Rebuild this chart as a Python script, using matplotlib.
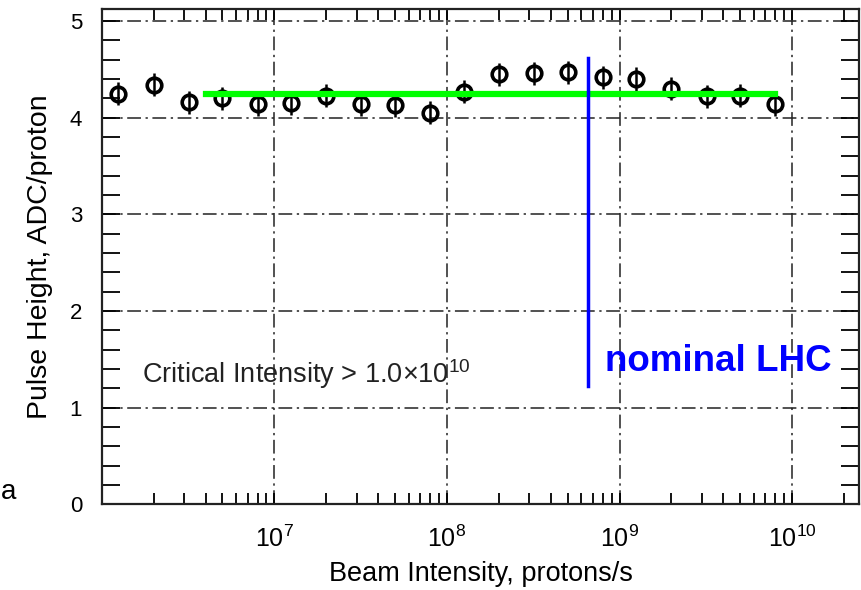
# Imports
import matplotlib
matplotlib.use("Agg")
import matplotlib.pyplot as plt
from matplotlib.ticker import LogLocator, MultipleLocator, NullFormatter

# beam intensity for each measurement (protons/s)
beam_intensity: list[float] = [
    1.25e6, 2.0e6, 3.2e6, 5.0e6, 8.0e6,
    1.25e7, 2.0e7, 3.2e7, 5.0e7, 8.0e7,
    1.25e8, 2.0e8, 3.2e8, 5.0e8, 8.0e8,
    1.25e9, 2.0e9, 3.2e9, 5.0e9, 8.0e9,
]
# pulse height (ADC/proton) and its error
pulse_height: list[float] = [
    4.25, 4.34, 4.16, 4.20, 4.14,
    4.15, 4.23, 4.14, 4.13, 4.05,
    4.27, 4.45, 4.46, 4.47, 4.42,
    4.40, 4.30, 4.22, 4.23, 4.14,
]
pulse_error: list[float] = [0.12] * 20

# constant fit and the nominal LHC intensity
fit_range: list[float] = [4.0e6, 8.0e9]
fit_value: float = 4.25
nominal_lhc: float = 6.6e8
nominal_span: list[float] = [1.22, 4.62]

x_ticks: list[float] = [1e7, 1e8, 1e9, 1e10]
x_tick_labels: list[str] = ["10$^{7}$", "10$^{8}$", "10$^{9}$", "10$^{10}$"]
y_ticks: list[int] = [0, 1, 2, 3, 4, 5]


def build_plot() -> plt.Figure:
    """Draw pulse height versus beam intensity."""
    plt.rcParams["font.family"] = ["Liberation Sans", "DejaVu Sans"]
    plt.rcParams["mathtext.fontset"] = "custom"
    plt.rcParams["mathtext.rm"] = "Liberation Sans"
    plt.rcParams["mathtext.default"] = "regular"

    fig = plt.figure(figsize=(8.61, 5.90), dpi=100)
    ax = fig.add_axes([0.1181, 0.1453, 0.8799, 0.8386])

    ax.set_xscale("log")
    ax.set_xlim(1e6, 2.45e10)
    ax.set_ylim(0, 5.12)

    # data points
    ax.errorbar(
        beam_intensity, pulse_height, yerr=pulse_error,
        fmt="o", ms=10.5, mfc="none", mec="black", mew=2.6,
        ecolor="black", elinewidth=1.8, capsize=0, zorder=3,
    )
    # fit line
    ax.plot(fit_range, [fit_value, fit_value], color="#00ff00", lw=4.5, zorder=4)
    # nominal LHC marker
    ax.plot([nominal_lhc, nominal_lhc], nominal_span, color="#0000ff", lw=2.5, zorder=5)
    ax.text(8.2e8, 1.38, "nominal LHC", color="#0000ff", fontsize=26.5,
            fontweight="bold", va="baseline", ha="left", zorder=6)
    ax.text(1.71e6, 1.26, "Critical Intensity > 1.0$\\times$10$^{10}$",
            fontsize=19.5, va="baseline", ha="left", color="#222222")

    # ticks
    ax.set_xticks(x_ticks)
    ax.set_xticklabels(x_tick_labels)
    ax.xaxis.set_minor_locator(LogLocator(base=10, subs=range(2, 10), numticks=20))
    ax.xaxis.set_minor_formatter(NullFormatter())
    ax.set_yticks(y_ticks)
    ax.yaxis.set_minor_locator(MultipleLocator(0.2))
    ax.tick_params(axis="x", which="both", direction="in", top=True,
                   length=8, width=1.3, labelsize=18, pad=15)
    ax.tick_params(axis="y", which="both", direction="in", right=True,
                   length=13, width=1.3, labelsize=16, pad=14)

    # grid
    ax.grid(True, which="major", color="#222222", lw=1.1, ls=(0, (9, 3, 1.5, 3)))
    for spine in ax.spines.values():
        spine.set_linewidth(1.6)
        spine.set_color("#222222")

    ax.set_xlabel("Beam Intensity, protons/s", fontsize=19.5, labelpad=7)
    ax.set_ylabel("Pulse Height, ADC/proton", fontsize=20.5, labelpad=12)

    # letter at the left edge
    fig.text(0.001, 0.155, "a", fontsize=20, ha="left", va="baseline")

    return fig


def main() -> None:
    fig = build_plot()
    fig.savefig("out.png", dpi=100)


if __name__ == "__main__":
    main()
